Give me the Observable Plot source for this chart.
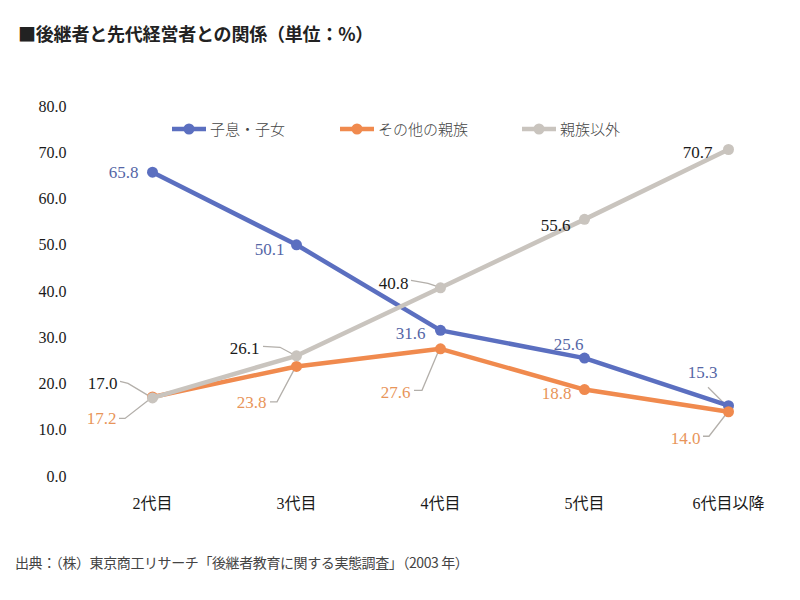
<!DOCTYPE html>
<html><head><meta charset="utf-8">
<script src="https://cdn.jsdelivr.net/npm/d3@7"></script>
<script src="https://cdn.jsdelivr.net/npm/@observablehq/plot@0.6"></script>
<style>
body{margin:0;background:#fff;width:800px;height:600px;position:relative;overflow:hidden;font-family:"Noto Sans CJK JP",sans-serif;}
#title{position:absolute;left:18px;top:20px;font-size:18px;font-weight:700;color:#222;letter-spacing:-0.2px;white-space:nowrap;}
#chart{position:absolute;left:0;top:70px;}
#chart svg, #chart svg text{font-family:"Liberation Serif","Noto Sans CJK JP",serif !important;}
.leg{position:absolute;top:118px;display:flex;align-items:center;font-size:15px;color:#444;font-weight:300;white-space:nowrap;}
.leg svg{margin-right:4px;}
#caption{position:absolute;left:15px;top:552px;font-size:14px;color:#444;white-space:nowrap;letter-spacing:-0.4px;}
</style></head>
<body>
<div id="title">■後継者と先代経営者との関係（単位：%）</div>
<div id="chart"></div>
<div id="caption">出典：（株）東京商工リサーチ「後継者教育に関する実態調査」（2003 年）</div>
<script>
// ---- data ----
const generations = ["2代目", "3代目", "4代目", "5代目", "6代目以降"];
const seriesNames = ["子息・子女", "その他の親族", "親族以外"];
const kidsValues = [65.8, 50.1, 31.6, 25.6, 15.3];
const otherRelativesValues = [17.2, 23.8, 27.6, 18.8, 14.0];
const nonRelativesValues = [17.0, 26.1, 40.8, 55.6, 70.7];
const yTicks = [0, 10, 20, 30, 40, 50, 60, 70, 80];

// ---- styling / layout (kept apart from data) ----
const lineColors = ["#5b6fc0", "#f08a4e", "#c9c4be"];
const labelColors = ["#5566a6", "#e8955a", "#1a1a1a"];
// label offsets in px [dx, dy, anchor], per series, per generation
const labelOffsets = [
  [[-14, 0, "end"], [-12, 5, "end"], [-15, 3, "end"], [-16, -14, "middle"], [-26, -33, "middle"]],
  [[-36, 22, "end"], [-30, 36, "end"], [-30, 44, "end"], [-13, 4, "end"], [-28, 27, "end"]],
  [[-35, -14, "end"], [-37, -7, "end"], [-32, -4, "end"], [-14, 6, "end"], [-16, 3, "end"]]
];
// leader line polylines (px, relative to the point), null = none
const leaderLines = [
  [null, null, null, null, [[-20, -18], [-3, -1]]],
  [[[-33, 22], [-27, 22], [-4, 4]], [[-26, 36], [-19, 36], [-2, 4]], [[-26, 42], [-18, 42], [-2, 4]], null, [[-25, 25], [-19, 25], [-2, 3]]],
  [[[-32, -16], [-24, -14], [-4, -2]], [[-33, -9], [-16, -8], [-3, -1]], [[-29, -7], [-12, -4], [-3, -1]], null, null]
];

const seriesValues = [kidsValues, otherRelativesValues, nonRelativesValues];
const rows = [];
seriesValues.forEach((vals, si) => vals.forEach((v, gi) => rows.push({
  series: seriesNames[si], si, gi, gen: generations[gi], value: v
})));

const drawOrder = [0, 1, 2];
const marks = [];
for (const si of drawOrder) {
  const d = rows.filter(r => r.si === si);
  marks.push(Plot.line(d, {x: "gen", y: "value", stroke: lineColors[si], strokeWidth: 4.5, strokeLinejoin: "round"}));
  marks.push(Plot.dot(d, {x: "gen", y: "value", fill: lineColors[si], r: 5.5}));
}
for (const r of rows) {
  const [dx, dy, anchor] = labelOffsets[r.si][r.gi];
  marks.push(Plot.text([r], {x: "gen", y: "value", text: d => d.value.toFixed(1), dx, dy, textAnchor: anchor,
    fill: labelColors[r.si], fontSize: 17}));
}

const plot = Plot.plot({
  width: 800, height: 460,
  marginTop: 36, marginBottom: 54, marginLeft: 70, marginRight: 72,
  style: {fontSize: "16px", color: "#1a1a1a", background: "transparent"},
  x: {type: "point", domain: generations, range: [151, 728], padding: 0, label: null, tickSize: 0, tickPadding: 21},
  y: {domain: [0, 80], ticks: yTicks, tickFormat: d => d.toFixed(1), label: null, tickSize: 0, tickPadding: 4},
  marks
});
document.getElementById("chart").appendChild(plot);

// leader lines via the plot's own scales
const xs = plot.scale("x"), ys = plot.scale("y");
const svg = d3.select(plot);
const g = svg.insert("g", ":scope > g:nth-of-type(3)");
for (const r of rows) {
  const pts = leaderLines[r.si][r.gi];
  if (!pts) continue;
  const px = xs.apply(r.gen), py = ys.apply(r.value);
  g.append("polyline")
    .attr("points", pts.map(([a, b]) => `${px + a},${py + b}`).join(" "))
    .attr("fill", "none").attr("stroke", "#b3afaa").attr("stroke-width", 1.3);
}

// legend
const legendLeft = [172, 340, 522];
seriesNames.forEach((name, i) => {
  const div = document.createElement("div");
  div.className = "leg";
  div.style.left = legendLeft[i] + "px";
  div.innerHTML = `<svg width="34" height="14"><line x1="0" x2="34" y1="7" y2="7" stroke="${lineColors[i]}" stroke-width="4.5"/><circle cx="17" cy="7" r="5.5" fill="${lineColors[i]}"/></svg><span>${name}</span>`;
  document.body.appendChild(div);
});
</script>
</body></html>
